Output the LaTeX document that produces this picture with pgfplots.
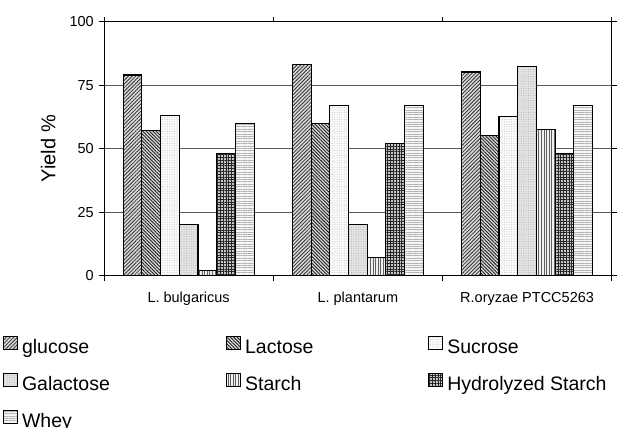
\documentclass[border=0pt]{standalone}
\usepackage{pgfplots}
\pgfplotsset{compat=1.18}
\usepackage{fontspec}
\setmainfont{Liberation Sans}
\usetikzlibrary{patterns.meta}
\tikzset{
 pglu/.style={fill=gray!30, postaction={pattern={Lines[angle=45,distance=2.6pt,line width=0.8pt]}, pattern color=gray!40!black}},
 plac/.style={fill=gray!30, postaction={pattern={Lines[angle=-45,distance=2.4pt,line width=0.9pt]}, pattern color=gray!25!black}},
 psuc/.style={fill=gray!4, postaction={pattern={Dots[distance=2.4pt,radius=0.45pt]}, pattern color=gray!55}},
 pgal/.style={fill=gray!22, postaction={pattern={Dots[distance=2.4pt,radius=0.5pt]}, pattern color=gray!60}},
 psta/.style={fill=gray!12, postaction={pattern={Lines[angle=90,distance=2.6pt,line width=0.8pt]}, pattern color=gray!75!black}},
 phyd/.style={fill=gray!45, postaction={pattern={Hatch[angle=0,distance=2.8pt,line width=0.8pt]}, pattern color=gray!30!black}},
 pwhe/.style={fill=gray!8, postaction={pattern={Lines[angle=0,distance=2.4pt,line width=0.7pt]}, pattern color=gray!60}},
}
\pgfplotsset{
 leg/.style={legend image code/.code={\draw[##1] (0bp,0bp) rectangle (14bp,13bp);}},
}
\begin{document}
\begin{tikzpicture}
\path[use as bounding box] (0,0) rectangle (624bp,428bp);
\begin{axis}[
 at={(104bp,152.3bp)}, anchor=south west,
 scale only axis, width=507.7bp, height=254bp,
 ybar=0pt, bar width=18.7bp,
 xmin=0.5, xmax=3.5, ymin=0, ymax=100,
 xtick={1,2,3},
 xticklabels={L. bulgaricus, L. plantarum, R.oryzae PTCC5263},
 minor xtick={0.5,1.5,2.5,3.5},
 ytick={0,25,50,75,100},
 tick align=outside,
 major tick length=5bp, minor tick length=5bp,
 major x tick style={draw=none},
 tick style={black, line width=0.8pt},
 ymajorgrids, major grid style={gray!70!black, line width=0.8pt},
 axis line style={black, line width=1pt},
 /pgf/number format/assume math mode=true,
 ticklabel style={font=\fontsize{14.5bp}{16bp}\selectfont},
 yticklabel style={anchor=east, inner sep=0pt, xshift=-5bp},
 xticklabel style={anchor=base, inner sep=0pt, yshift=-22bp},
 ylabel={Yield \%},
 ylabel style={font=\fontsize{20bp}{24bp}\selectfont, at={(rel axis cs:-0.11,0.5)}, rotate=0, anchor=center},
 legend columns=3,
 legend cell align=left,
 legend style={at={(rel axis cs:-0.199,-0.236)}, anchor=north west, draw=none, fill=none,
   inner sep=0pt, outer sep=0pt, column sep=0pt, row sep=15bp,
   font=\fontsize{19.5bp}{22bp}\selectfont,
   nodes={inner xsep=4bp, inner ysep=0pt, text height=13bp, text depth=4bp}},
]
\addplot[draw=black, line width=1.1pt, pglu, leg] coordinates {(1,79) (2,83) (3,80.2)};
\addlegendentry{\makebox[200bp][l]{glucose}}
\addplot[draw=black, line width=1.1pt, plac, leg] coordinates {(1,57) (2,60) (3,55.1)};
\addlegendentry{\makebox[179bp][l]{Lactose}}
\addplot[draw=black, line width=1.1pt, psuc, leg] coordinates {(1,63) (2,67) (3,62.7)};
\addlegendentry{Sucrose}
\addplot[draw=black, line width=1.1pt, pgal, leg] coordinates {(1,20) (2,20) (3,82.4)};
\addlegendentry{\makebox[200bp][l]{Galactose}}
\addplot[draw=black, line width=1.1pt, psta, leg] coordinates {(1,2) (2,7) (3,57.6)};
\addlegendentry{\makebox[179bp][l]{Starch}}
\addplot[draw=black, line width=1.1pt, phyd, leg] coordinates {(1,48.2) (2,52) (3,48.2)};
\addlegendentry{Hydrolyzed Starch}
\addplot[draw=black, line width=1.1pt, pwhe, leg] coordinates {(1,60) (2,67) (3,67)};
\addlegendentry{\makebox[200bp][l]{Whey}}
\end{axis}
\end{tikzpicture}
\end{document}
